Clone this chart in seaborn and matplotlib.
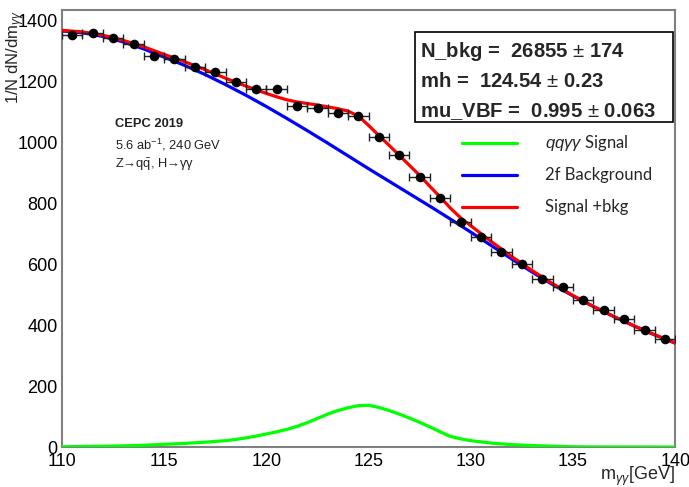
import numpy as np
import pandas as pd
import matplotlib.pyplot as plt
import seaborn as sns
from matplotlib.ticker import MultipleLocator

# ---- data ----
bin_centers = [110.5, 111.5, 112.5, 113.5, 114.5, 115.5, 116.5, 117.5, 118.5, 119.5,
               120.5, 121.5, 122.5, 123.5, 124.5, 125.5, 126.5, 127.5, 128.5, 129.5,
               130.5, 131.5, 132.5, 133.5, 134.5, 135.5, 136.5, 137.5, 138.5, 139.5]
data_vals = [1351, 1357, 1341, 1321, 1282, 1272, 1246, 1230, 1197, 1174,
             1174, 1118, 1111, 1095, 1085, 1016, 957, 885, 816, 738,
             689, 639, 600, 551, 525, 482, 449, 420, 384, 354]

bkg_x = [110, 111, 112, 113, 114, 115, 116, 117, 118, 119, 120, 121, 122, 123, 124, 125,
         126, 127, 128, 129, 130, 131, 132, 133, 134, 135, 136, 137, 138, 139, 140]
bkg_vals = [1365, 1359, 1347, 1329, 1306, 1279, 1252, 1222, 1189, 1154, 1117, 1078, 1038, 997, 955, 913,
            872, 831, 790, 748, 705, 661, 617, 574, 533, 496, 461, 428, 397, 368, 341]

sig_x = [110, 111, 112, 113, 114, 115, 116, 117, 118, 118.5, 119, 119.5, 120, 120.5, 121, 121.5,
         122, 122.5, 123, 123.5, 124, 124.5, 125, 125.5, 126, 126.5, 127, 127.5, 128, 128.5,
         129, 129.5, 130, 130.5, 131, 132, 133, 134, 135, 136, 137, 138, 139, 140]
sig_vals = [1, 2, 3, 4, 6, 9, 12, 16, 21, 25, 30, 36, 43, 50, 58, 68,
            80, 94, 108, 120, 129, 136, 137, 130, 120, 108, 95, 81, 66, 50,
            35, 27, 21, 17, 13, 8, 5, 3, 1, 0.5, 0.3, 0.2, 0.1, 0]

tot_x = [110, 111, 112, 113, 114, 115, 116, 117, 118, 118.5, 119, 119.5, 120, 120.5, 121, 121.5,
         122, 122.5, 123, 123.5, 124, 124.5, 125, 125.5, 126, 126.5, 127, 127.5, 128, 128.5,
         129, 129.5, 130, 130.5, 131, 132, 133, 134, 135, 136, 137, 138, 139, 140]
tot_vals = [1367, 1362, 1351, 1334, 1313, 1288, 1264, 1238, 1210, 1197, 1184, 1172, 1160, 1149, 1139, 1132,
            1127, 1122, 1116, 1110, 1102, 1086, 1055, 1022, 990, 957, 924, 891, 855, 820,
            784, 752, 726, 700, 674, 625, 579, 536, 497, 461, 428, 397, 368, 341]

fit_lines = ["N_bkg =  26855 $\\pm$ 174",
             "mh =  124.54 $\\pm$ 0.23",
             "mu_VBF =  0.995 $\\pm$ 0.063"]

sns.set_theme(style="white")
plt.rcParams['font.family'] = ['Liberation Sans', 'DejaVu Sans']
plt.rcParams['mathtext.fontset'] = 'custom'
plt.rcParams['mathtext.rm'] = 'Liberation Sans'
plt.rcParams['mathtext.it'] = 'Liberation Sans:italic'

fig = plt.figure(figsize=(6.89, 4.87), dpi=100)
ax = fig.add_axes([0.090, 0.082, 0.890, 0.897])

sig_df = pd.DataFrame({'x': sig_x, 'y': sig_vals})
bkg_df = pd.DataFrame({'x': bkg_x, 'y': bkg_vals})
tot_df = pd.DataFrame({'x': tot_x, 'y': tot_vals})

sns.lineplot(data=sig_df, x='x', y='y', color='#00ff00', lw=2.3, ax=ax, zorder=3)
sns.lineplot(data=bkg_df, x='x', y='y', color='#0000ff', lw=2.3, ax=ax, zorder=3)
sns.lineplot(data=tot_df, x='x', y='y', color='#ff0000', lw=2.3, ax=ax, zorder=4)

ax.errorbar(bin_centers, data_vals, xerr=0.5, fmt='none', ecolor='#222222',
            elinewidth=1, capsize=3, capthick=1, zorder=5)
sns.scatterplot(x=bin_centers, y=data_vals, color='black', s=48, edgecolor='black',
                linewidth=0, ax=ax, zorder=6)

ax.set_xlim(110, 140)
ax.set_ylim(0, 1433)
ax.xaxis.set_major_locator(MultipleLocator(5))
ax.xaxis.set_minor_locator(MultipleLocator(1))
ax.yaxis.set_major_locator(MultipleLocator(200))
ax.yaxis.set_minor_locator(MultipleLocator(50))
ax.tick_params(axis='both', which='both', direction='in', colors='black', labelsize=13)
ax.tick_params(axis='x', which='major', length=12, width=1, pad=4)
ax.tick_params(axis='x', which='minor', length=6, width=1)
ax.tick_params(axis='y', which='major', length=18, width=1, pad=3)
ax.tick_params(axis='y', which='minor', length=9, width=1)
for sp in ax.spines.values():
    sp.set_color('#808080')
    sp.set_linewidth(1.5)

ax.set_xlabel('m$_{\\gamma\\gamma}$[GeV]', fontsize=13, ha='right', va='top')
ax.xaxis.set_label_coords(1.0, -0.040)
ax.set_ylabel('1/N dN/dm$_{\\gamma\\gamma}$', fontsize=12, ha='right', va='center')
ax.yaxis.set_label_coords(-0.075, 1.0)

# fit result box
box = plt.Rectangle((0.576, 0.744), 0.421, 0.206, transform=ax.transAxes,
                    facecolor='white', edgecolor='black', lw=1.2, zorder=7)
ax.add_patch(box)
for i, line in enumerate(fit_lines):
    ax.text(0.584, 0.905 - i * 0.069, line, transform=ax.transAxes, fontsize=14.6,
            fontweight='bold', va='center', ha='left', zorder=8)

# experiment label
ax.text(0.086, 0.740, 'CEPC 2019', transform=ax.transAxes, fontsize=9.3,
        fontweight='bold', va='center', color='#222222')
ax.text(0.086, 0.692, '5.6 ab$^{-1}$, 240 GeV', transform=ax.transAxes, fontsize=9.3,
        va='center', color='#222222')
ax.text(0.086, 0.646, 'Z\u2192q$\\bar{\\mathrm{q}}$, H\u2192\u03b3\u03b3',
        transform=ax.transAxes, fontsize=9.3, va='center', color='#222222')

# legend
leg_labels = ['$qq\\gamma\\gamma$ Signal', '2f Background', 'Signal +bkg']
leg_colors = ['#00ff00', '#0000ff', '#ff0000']
leg_y = [0.696, 0.622, 0.549]
for lab, col, yy in zip(leg_labels, leg_colors, leg_y):
    ax.plot([0.652, 0.742], [yy, yy], transform=ax.transAxes, color=col, lw=2.3, zorder=8)
    ax.text(0.788, yy, lab, transform=ax.transAxes, fontsize=12, va='center',
            family=['Lato', 'DejaVu Sans'], zorder=8)

fig.savefig('out.png', dpi=100)
